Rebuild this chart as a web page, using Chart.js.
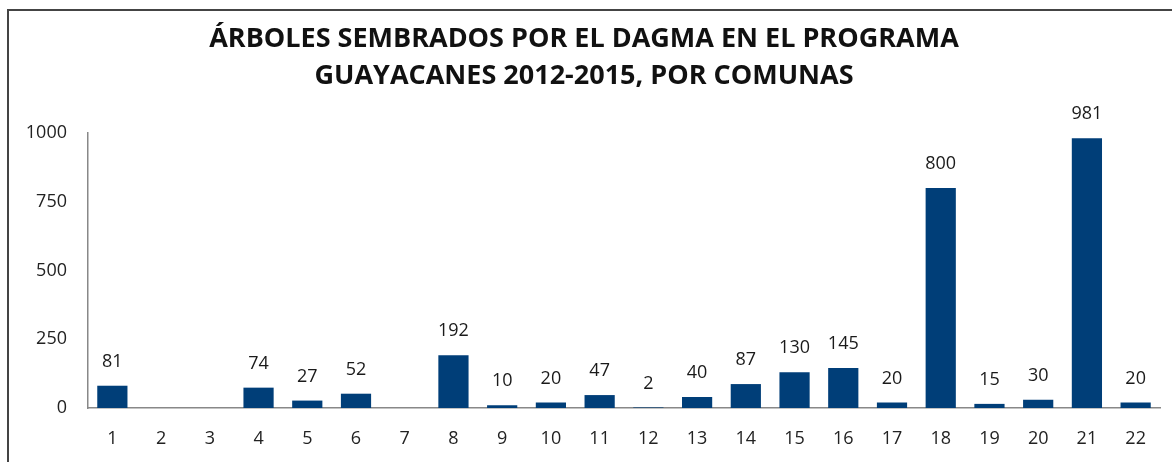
<!DOCTYPE html>
<html>
<head>
<meta charset="utf-8">
<script src="https://cdn.jsdelivr.net/npm/chart.js@4.4.1/dist/chart.umd.min.js"></script>
<style>
  html, body { margin: 0; padding: 0; background: #fff; }
  #wrap { width: 1172px; height: 462px; position: relative; }
</style>
</head>
<body>
<div id="wrap"><canvas id="chart"></canvas></div>
<script>
// Comunas y árboles sembrados
const comunas = ["1","2","3","4","5","6","7","8","9","10","11","12","13","14","15","16","17","18","19","20","21","22"]
const arboles = [81, null, null, 74, 27, 52, null, 192, 10, 20, 47, 2, 40, 87, 130, 145, 20, 800, 15, 30, 981, 20]
const yTicks = [0, 250, 500, 750, 1000]
const titulo = ["ÁRBOLES SEMBRADOS POR EL DAGMA EN EL PROGRAMA", "GUAYACANES 2012-2015, POR COMUNAS"]

// marco del gráfico y etiquetas encima de las barras
const extras = {
  id: "extras",
  beforeDraw(chart) {
    const ctx = chart.ctx
    ctx.save()
    ctx.strokeStyle = "#444"
    ctx.lineWidth = 2
    ctx.beginPath()
    ctx.moveTo(8, 470)
    ctx.lineTo(8, 10)
    ctx.lineTo(1180, 10)
    ctx.stroke()
    ctx.restore()
  },
  afterDatasetsDraw(chart) {
    const ctx = chart.ctx
    const meta = chart.getDatasetMeta(0)
    ctx.save()
    ctx.font = "18px 'Open Sans', sans-serif"
    ctx.fillStyle = "#1a1a1a"
    ctx.textAlign = "center"
    ctx.textBaseline = "middle"
    meta.data.forEach((bar, i) => {
      const v = arboles[i]
      if (v == null) return
      ctx.fillText(String(v), bar.x, bar.y - 24)
    })
    ctx.restore()
  }
}

new Chart(document.getElementById("chart"), {
  type: "bar",
  data: {
    labels: comunas,
    datasets: [{
      data: arboles,
      backgroundColor: "#003e78",
      barPercentage: 0.62,
      categoryPercentage: 1
    }]
  },
  options: {
    responsive: true,
    maintainAspectRatio: false,
    animation: false,
    layout: { padding: { left: 8, right: 12, top: 0, bottom: 0 } },
    plugins: {
      legend: { display: false },
      tooltip: { enabled: false },
      title: {
        display: true,
        text: titulo,
        color: "#111",
        font: { family: "'Open Sans', sans-serif", size: 27, weight: "bold", lineHeight: 1.37 },
        padding: { top: 21, bottom: 38 }
      }
    },
    scales: {
      y: {
        min: 0,
        max: 1000,
        afterBuildTicks(scale) { scale.ticks = yTicks.map(v => ({ value: v })) },
        afterFit(scale) { scale.width = 80 },
        grid: { display: false, drawTicks: false },
        border: { display: true, color: "#888", width: 1.5 },
        ticks: {
          color: "#222", padding: 21,
          font: { family: "'Open Sans', sans-serif", size: 18 },
          callback: v => String(v)
        }
      },
      x: {
        afterFit(scale) { scale.height = 54 },
        grid: { display: false, drawTicks: false },
        border: { display: true, color: "#888", width: 1.5 },
        ticks: { color: "#222", padding: 20, font: { family: "'Open Sans', sans-serif", size: 18 } }
      }
    }
  },
  plugins: [extras]
})
</script>
</body>
</html>
